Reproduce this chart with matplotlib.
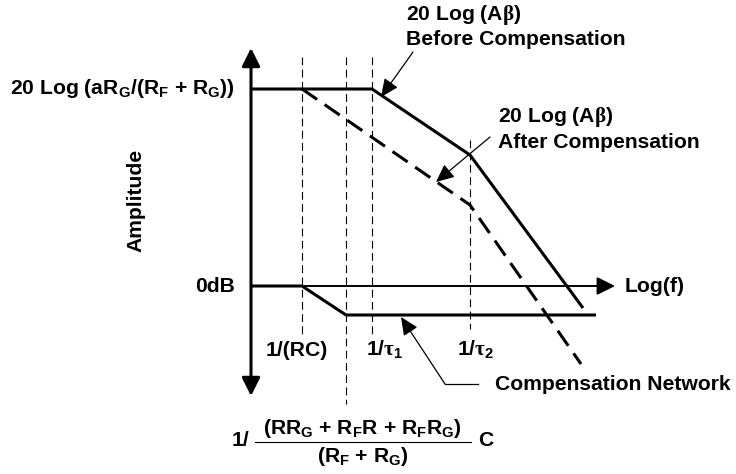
import matplotlib.pyplot as plt

plt.rcParams["font.family"] = ["Liberation Sans", "DejaVu Sans"]
plt.rcParams["font.weight"] = "bold"
plt.rcParams["mathtext.fontset"] = "custom"
plt.rcParams["mathtext.rm"] = "Liberation Sans:bold"
plt.rcParams["mathtext.it"] = "Liberation Sans:bold"
plt.rcParams["mathtext.bf"] = "Liberation Sans:bold"
plt.rcParams["mathtext.sf"] = "Liberation Serif"  # greek letters drawn in a symbol-like serif

# diagram data: x = log(f) units from the amplitude axis, y = amplitude units from 0dB
f_rc, f_comp, f_tau1, f_tau2 = 5.1, 9.5, 12.1, 21.9
top_level = 19.7

before_f = [0, f_tau1, f_tau2, 33.2]
before_db = [top_level, top_level, 13.1, -2.2]

after_f = [f_rc, f_tau2, 33.0]
after_db = [top_level, 8.1, -7.8]

comp_f = [0, f_rc, f_comp, 34.5]
comp_db = [0, 0, -2.9, -2.9]

# vertical guide lines: (x, y_top, y_bottom)
guides = [(f_rc, 22.9, -5.1), (f_comp, 22.9, -11.8), (f_tau1, 22.9, -4.8), (f_tau2, 14.6, -4.3)]

fs = 15.2

fig = plt.figure(figsize=(7.36, 4.74), dpi=100)
ax = fig.add_axes([0, 0, 1, 1])
ax.set_xlim(-25.1, 48.5)
ax.set_ylim(-18.8, 28.6)
ax.axis("off")

# axes
ax.annotate("", xy=(0, 23.8), xytext=(0, -11.0),
            arrowprops=dict(arrowstyle="<|-|>,head_length=1.1,head_width=0.55",
                            lw=2.2, color="black", shrinkA=0, shrinkB=0))
ax.annotate("", xy=(36.4, 0), xytext=(0, 0),
            arrowprops=dict(arrowstyle="-|>,head_length=1.1,head_width=0.55",
                            lw=1.4, color="black", shrinkA=0, shrinkB=0))

# guide lines
for gx, gt, gb in guides:
    ax.plot([gx, gx], [gt, gb], color="black", lw=0.8, dashes=(7, 4))

# curves
ax.plot(before_f, before_db, color="black", lw=2.2, solid_capstyle="butt")
ax.plot(after_f, after_db, color="black", lw=2.2, dashes=(6, 3))
ax.plot(comp_f, comp_db, color="black", lw=2.2, solid_capstyle="butt")

# labels on axes
ax.text(-1.6, top_level, r"20 Log (aR$_G$/(R$_F$ + R$_G$))", fontsize=fs,
        ha="right", va="center")
ax.text(-1.6, 0, "0dB", fontsize=fs, ha="right", va="center")
ax.text(-11.5, 8.6, "Amplitude", fontsize=fs, rotation=90, ha="center", va="center")
ax.text(37.4, 0, "Log(f)", fontsize=fs, ha="left", va="center")

ax.text(4.6, -6.4, "1/(RC)", fontsize=fs, ha="center", va="center")
ax.text(13.4, -6.4, r"1/$\mathsf{\tau}_1$", fontsize=fs, ha="center", va="center")
ax.text(22.5, -6.4, r"1/$\mathsf{\tau}_2$", fontsize=fs, ha="center", va="center")

# curve annotations
ax.text(15.5, 26.0, "20 Log (A$\\mathsf{\\beta}$)\nBefore Compensation", fontsize=fs,
        ha="left", va="center", linespacing=1.25)
ax.annotate("", xy=(13.0, 18.9), xytext=(16.2, 23.4),
            arrowprops=dict(arrowstyle="-|>,head_length=1.1,head_width=0.5",
                            lw=0.9, color="black", shrinkA=0, shrinkB=0))

ax.text(24.7, 15.75, "20 Log (A$\\mathsf{\\beta}$)\nAfter Compensation", fontsize=fs,
        ha="left", va="center", linespacing=1.25)
ax.annotate("", xy=(18.5, 10.4), xytext=(23.9, 14.9),
            arrowprops=dict(arrowstyle="-|>,head_length=1.1,head_width=0.5",
                            lw=0.9, color="black", shrinkA=0, shrinkB=0))

ax.text(24.4, -9.8, "Compensation Network", fontsize=fs, ha="left", va="center")
ax.plot([19.4, 22.7], [-9.8, -9.8], color="black", lw=0.9)
ax.annotate("", xy=(15.0, -3.1), xytext=(19.4, -9.8),
            arrowprops=dict(arrowstyle="-|>,head_length=1.1,head_width=0.5",
                            lw=0.9, color="black", shrinkA=0, shrinkB=0))

# bottom formula for the compensation pole
ax.text(-0.2, -15.4, "1/", fontsize=fs, ha="right", va="center")
ax.text(11.1, -14.2, r"(RR$_G$ + R$_F$R + R$_F$R$_G$)", fontsize=fs, ha="center", va="center")
ax.plot([0.4, 22.0], [-15.6, -15.6], color="black", lw=0.8)
ax.text(11.2, -17.1, r"(R$_F$ + R$_G$)", fontsize=fs, ha="center", va="center")
ax.text(22.7, -15.5, "C", fontsize=fs, ha="left", va="center")

fig.savefig("out.png", dpi=100)
